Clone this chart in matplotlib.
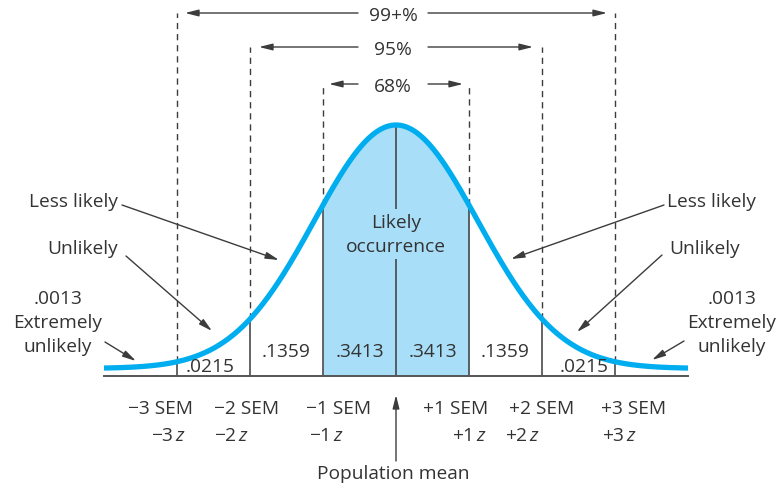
import numpy as np
import matplotlib
matplotlib.use("Agg")
import matplotlib.pyplot as plt

plt.rcParams['font.family'] = ['Open Sans', 'DejaVu Sans']
plt.rcParams['mathtext.fontset'] = 'custom'
plt.rcParams['mathtext.rm'] = 'Open Sans'
plt.rcParams['mathtext.it'] = 'Open Sans:italic'

# ---------------- data ----------------
z_marks = [-3, -2, -1, 1, 2, 3]
region_probs = ['.0215', '.1359', '.3413', '.3413', '.1359', '.0215']
sem_labels = ['\u22123 SEM', '\u22122 SEM', '\u22121 SEM', '+1 SEM', '+2 SEM', '+3 SEM']
z_labels = ['\u22123', '\u22122', '\u22121', '+1', '+2', '+3']
coverage_z = [1, 2, 3]
coverage_labels = ['68%', '95%', '99+%']
side_labels = ['Less likely', 'Unlikely', '.0013\nExtremely\nunlikely']
center_label = 'Likely\noccurrence'
mean_label = 'Population mean'

# ---------------- layout ----------------
W, Hpx = 783, 489
CX, BASE = 396, 377          # pixel of mean and baseline
U = 73.0                      # px per z unit
HU = 251.0                    # px per unit height
SIG = 1.12                    # curve spread in z units
OFF = 0.03                    # curve lift above baseline

def X(px):
    return (px - CX) / U

def Y(py):
    return (BASE - py) / HU

def curve(z):
    z = np.asarray(z, dtype=float)
    return OFF + (1 - OFF) * np.exp(-0.5 * (z / SIG) ** 2)

TXT = '#333333'
LINE = '#3c3c3c'
BLUE = '#00aeef'
FILL = '#a8def8'
FS = 13.8

fig = plt.figure(figsize=(W / 100, Hpx / 100), dpi=100)
ax = fig.add_axes([0, 0, 1, 1])
ax.set_xlim(X(0), X(W))
ax.set_ylim(Y(Hpx), Y(0))
ax.axis('off')

# curve and shading
xs = np.linspace(-4.0, 4.0, 600)
xf = np.linspace(z_marks[2], z_marks[3], 300)
ax.fill_between(xf, 0, curve(xf), color=FILL, lw=0, zorder=1)

# vertical lines
top_py = {1: 85, 2: 48, 3: 14}
for z in z_marks:
    cy = float(curve(z))
    ax.plot([z, z], [0, cy], color=LINE, lw=1.1, zorder=2)
    ax.plot([z, z], [cy, Y(top_py[abs(z)])], color=LINE, lw=1.0,
            ls=(0, (4.5, 3.5)), zorder=2)
ax.plot([0, 0], [0, float(curve(0))], color=LINE, lw=1.1, zorder=2)

ax.plot(xs, curve(xs), color=BLUE, lw=3.8, solid_capstyle='butt', zorder=4)

# baseline
ax.plot([xs[0], xs[-1]], [0, 0], color='#555555', lw=1.4, zorder=3)

# area labels
lbl_py = [367, 352, 352, 352, 352, 367]
for i, (p, py) in enumerate(zip(region_probs, lbl_py)):
    if i < 3:
        a, b = z_marks[i], (z_marks[i + 1] if i < 2 else 0)
    else:
        a, b = (0 if i == 3 else z_marks[i - 1]), z_marks[i]
    xc = (a + b) / 2
    if i == 0:
        xc = a + 33 / U
    if i == 5:
        xc = b - 31 / U
    ax.text(xc, Y(py), p, ha='center', va='center', fontsize=FS, color=TXT, zorder=5)

# center label (box hides the centre line behind the text)
ax.text(0, Y(235), center_label, ha='center', va='center', fontsize=FS, color=TXT,
        linespacing=1.45, zorder=5,
        bbox=dict(facecolor=FILL, edgecolor='none', pad=3))

# coverage arrows
arrow_kw = dict(arrowstyle='-|>,head_length=0.8,head_width=0.2', color=LINE, lw=1.0,
                shrinkA=0, shrinkB=0)
inset = {1: 6, 2: 9, 3: 8}
for z, lab in zip(coverage_z, coverage_labels):
    py = top_py[z]
    ax.text(X(393), Y(py + 2), lab, ha='center', va='center', fontsize=FS, color=TXT)
    ax.annotate('', xy=(-z + inset[z] / U, Y(py)), xytext=(X(358), Y(py)), arrowprops=arrow_kw)
    ax.annotate('', xy=(z - inset[z] / U, Y(py)), xytext=(X(428), Y(py)), arrowprops=arrow_kw)

# side annotations
left = [((118, 202), 'right', (122, 206), (279, 261)),
        ((118, 249), 'right', (126, 257), (212, 332)),
        ((58, 323), 'center', (105, 343), (136, 362))]
right = [((667, 202), 'left', (664, 206), (511, 260)),
         ((669, 249), 'left', (662, 256), (577, 333)),
         ((732, 323), 'center', (684, 342), (652, 361))]
for group in (left, right):
    for lab, ((tx, ty), ha, (ax0, ay0), (ax1, ay1)) in zip(side_labels, group):
        ax.text(X(tx), Y(ty), lab, ha=ha, va='center', fontsize=FS, color=TXT,
                linespacing=1.45)
        ax.annotate('', xy=(X(ax1), Y(ay1)), xytext=(X(ax0), Y(ay0)), arrowprops=arrow_kw)

# bottom labels
sem_dx = [-16, -3, 16, -13, 0, 19]
z_dx = [-8, -18, 4, 1, -19, 5]
for z, s, zl, d1, d2 in zip(z_marks, sem_labels, z_labels, sem_dx, z_dx):
    ax.text(z + d1 / U, Y(409), s, ha='center', va='center', fontsize=FS, color=TXT)
    ax.text(z + d2 / U, Y(436), zl + r'$\,z$', ha='center', va='center', fontsize=FS, color=TXT)

ax.annotate('', xy=(0, Y(396)), xytext=(0, Y(462)), arrowprops=arrow_kw)
ax.text(0 - 3 / U, Y(474), mean_label, ha='center', va='center', fontsize=FS, color=TXT)

fig.savefig('out.png', dpi=100)
